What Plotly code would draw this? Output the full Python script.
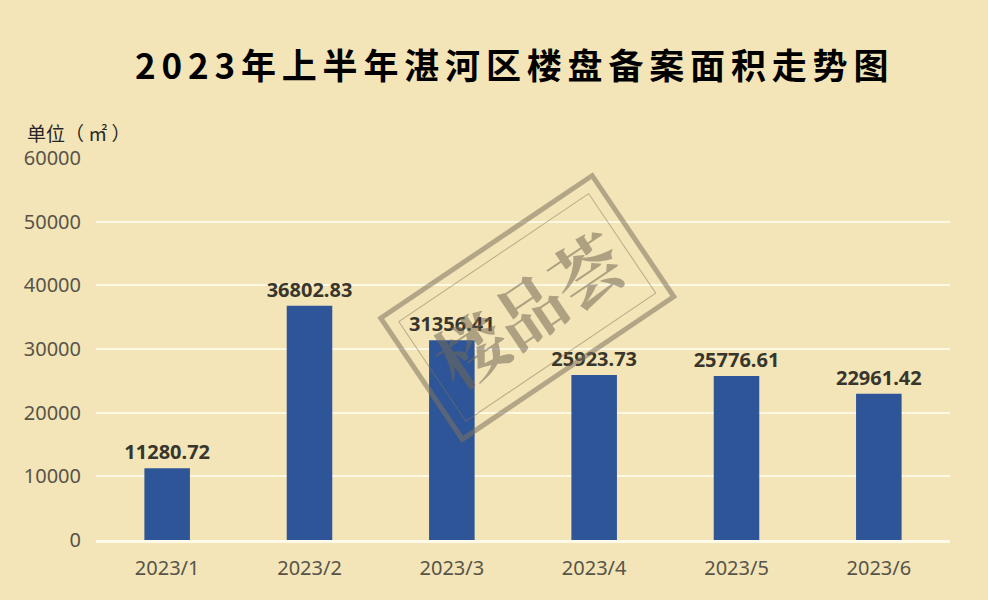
import plotly.graph_objects as go

# Monthly filed floor area, H1 2023
months = ["2023/1", "2023/2", "2023/3", "2023/4", "2023/5", "2023/6"]
areas = [11280.72, 36802.83, 31356.41, 25923.73, 25776.61, 22961.42]
y_ticks = [0, 10000, 20000, 30000, 40000, 50000, 60000]

BG = "#F3E5B7"
BAR = "#2E5597"
NUM_FONT = "Noto Sans, Open Sans, sans-serif"

fig = go.Figure(
    go.Bar(
        x=months,
        y=areas,
        marker=dict(color=BAR, line=dict(width=0)),
        text=[f"{v:.2f}" for v in areas],
        textposition="outside",
        constraintext="none",
        textfont=dict(family=NUM_FONT, size=20, color="#38362C", weight="bold"),
        cliponaxis=False,
        width=0.32,
    )
)

title = "2023年上半年湛河区楼盘备案面积走势图"
spaced = "\u2006".join(title)

# stamp centre in paper coordinates
stamp_x = (527 - 96) / 854
stamp_y = (540 - 307) / 382

fig.update_layout(
    width=988,
    height=600,
    paper_bgcolor=BG,
    plot_bgcolor=BG,
    margin=dict(l=96, r=38, t=158, b=60),
    showlegend=False,
    xaxis=dict(
        showgrid=False,
        showline=True,
        linecolor="#FFFBEA",
        linewidth=3,
        ticks="",
        tickfont=dict(family=NUM_FONT, size=20, color="#57544A"),
        ticklabelstandoff=8,
    ),
    yaxis=dict(
        range=[0, 60000],
        tickvals=y_ticks,
        ticktext=[str(t) for t in y_ticks],
        showgrid=True,
        gridcolor="#FFF9E4",
        gridwidth=2,
        zeroline=False,
        ticks="",
        tickfont=dict(family=NUM_FONT, size=20, color="#57544A"),
        ticklabelstandoff=14,
    ),
    annotations=[
        dict(
            text=spaced,
            xref="paper", yref="paper",
            x=0.5, y=1.0, xshift=-12, yshift=95,
            xanchor="center", yanchor="middle",
            showarrow=False,
            font=dict(family="Noto Sans CJK SC", size=35, color="#000000", weight="bold"),
        ),
        dict(
            text="单位（ ㎡ ）",
            xref="paper", yref="paper",
            x=0, y=1.0, xshift=-71, yshift=26,
            xanchor="left", yanchor="middle",
            showarrow=False,
            font=dict(family="Noto Sans CJK SC", size=19, color="#262626"),
        ),
        # stamp watermark: outer heavy frame
        dict(
            text="楼品荟",
            xref="paper", yref="paper",
            x=stamp_x, y=stamp_y,
            xanchor="center", yanchor="middle",
            showarrow=False,
            textangle=-34,
            font=dict(family="Noto Serif CJK SC, Noto Sans CJK SC", size=70, color="rgba(0,0,0,0)"),
            bordercolor="rgba(125,115,95,0.55)",
            borderwidth=5,
            borderpad=20,
        ),
        # stamp watermark: inner thin frame with text
        dict(
            text="楼品荟",
            xref="paper", yref="paper",
            x=stamp_x, y=stamp_y,
            xanchor="center", yanchor="middle",
            showarrow=False,
            textangle=-34,
            font=dict(family="Noto Serif CJK SC, Noto Sans CJK SC", size=70,
                      color="rgba(115,105,85,0.55)", weight="bold"),
            bordercolor="rgba(125,115,95,0.5)",
            borderwidth=1,
            borderpad=9,
        ),
    ],
)

fig.write_html("out.html")
